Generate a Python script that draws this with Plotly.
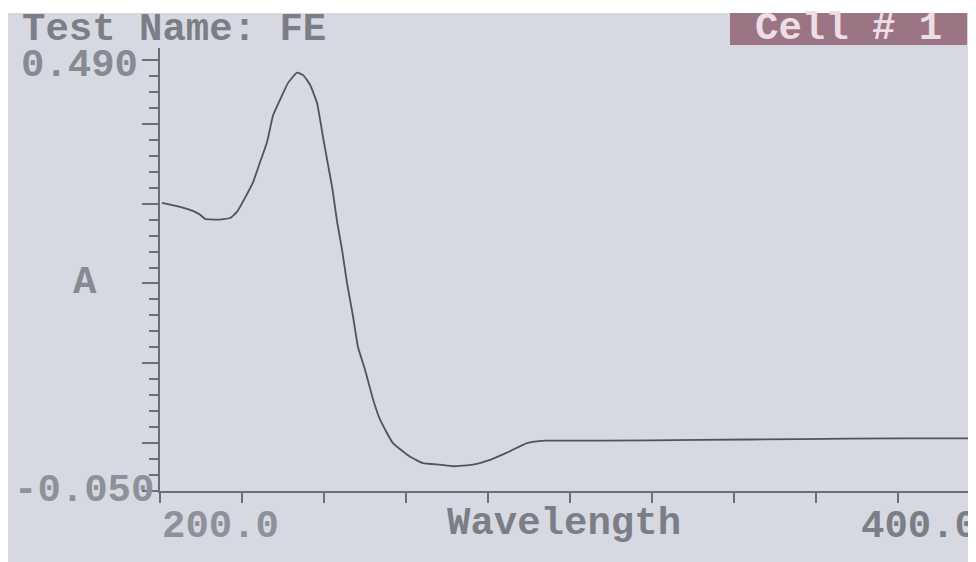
import plotly.graph_objects as go

# Data (wavelength in nm, absorbance A)
wavelength = [200.5, 204.9, 208.0, 209.8, 211.0, 213.9, 217.1, 218.8, 220.7, 222.7,
              224.4, 226.1, 227.6, 229.8, 231.2, 233.4, 234.9, 236.6, 238.3, 239.8,
              241.0, 242.0, 243.2, 244.4, 245.6, 247.1, 248.3, 250.0, 252.0, 253.7,
              256.8, 261.0, 264.1, 268.3, 271.5, 276.3, 280.5, 284.6, 289.5, 293.9,
              307.3, 331.7, 356.1, 380.5, 399.0]
absorbance = [0.311, 0.306, 0.301, 0.296, 0.291, 0.290, 0.292, 0.300, 0.317, 0.337,
              0.362, 0.387, 0.421, 0.446, 0.461, 0.474, 0.471, 0.459, 0.436, 0.392,
              0.358, 0.330, 0.287, 0.252, 0.211, 0.168, 0.130, 0.102, 0.064, 0.039,
              0.010, -0.007, -0.015, -0.017, -0.019, -0.017, -0.011, -0.002, 0.010, 0.013,
              0.013, 0.014, 0.015, 0.016, 0.016]

y_major_ticks = [-0.05, 0.01, 0.11, 0.21, 0.31, 0.41, 0.49]
y_tick_text = ["", "", "", "", "", "", ""]
x_min, x_max = 200.0, 400.0
x_view_max = 399.0
y_min, y_max = -0.050, 0.490

TXT = "#7b7e86"
FONT = dict(family="Liberation Mono", size=39, color=TXT, weight="bold")
AXC = "#6c6f77"

fig = go.Figure()
fig.add_trace(go.Scatter(x=wavelength, y=absorbance, mode="lines", line_shape="spline",
                         line=dict(color="#50535b", width=1.8, smoothing=0.4),
                         hoverinfo="skip"))

# page body has an 8px margin, so the figure is offset by 8px
fig.update_layout(
    width=968, height=554,
    margin=dict(l=152, r=0, t=40, b=71),
    paper_bgcolor="#d6d9e2", plot_bgcolor="rgba(0,0,0,0)",
    showlegend=False,
    xaxis=dict(range=[x_min, x_view_max], showgrid=False, zeroline=False,
               showline=True, linecolor=AXC, linewidth=2,
               ticks="outside", tick0=200, dtick=20, ticklen=10, tickwidth=2,
               tickcolor=AXC, showticklabels=False),
    yaxis=dict(range=[y_min, 0.505], showgrid=False, zeroline=False,
               showline=True, linecolor=AXC, linewidth=2,
               ticks="outside", tickmode="array", tickvals=y_major_ticks,
               ticktext=y_tick_text, ticklen=16, tickwidth=2, tickcolor=AXC,
               minor=dict(ticks="outside", tick0=-0.05, dtick=0.02, ticklen=9,
                          tickwidth=2, tickcolor=AXC)),
)

def px_x(px):
    return (px - 160) / 816.0

def px_y(py):
    return (491 - py) / 443.0

shapes = [
    dict(type="rect", xref="paper", yref="paper", x0=px_x(-10), x1=px_x(990),
         y0=px_y(13), y1=px_y(-5), fillcolor="white", line=dict(width=0), layer="below"),
    dict(type="rect", xref="paper", yref="paper", x0=px_x(730), x1=px_x(967),
         y0=px_y(45), y1=px_y(13), fillcolor="#9c7584", line=dict(width=0), layer="below"),
]
fig.update_layout(shapes=shapes)

def A(**kw):
    d = dict(showarrow=False, font=FONT)
    d.update(kw)
    return d

x400_paper = (x_max - x_min) / (x_view_max - x_min)

ann = [
    A(text="Test Name: FE", xref="paper", yref="paper", x=px_x(20), y=px_y(30),
      xanchor="left", yanchor="middle"),
    A(text="Cell # 1", xref="paper", yref="paper", x=px_x(848), y=px_y(29),
      xanchor="center", yanchor="middle",
      font=dict(family="Liberation Mono", size=39, color="#eddde4", weight="bold")),
    A(text="%.3f" % y_max, xref="paper", yref="paper", x=px_x(140), y=px_y(66),
      xanchor="right", yanchor="middle", font=dict(FONT, color="#878a92")),
    A(text="%.3f" % y_min, xref="paper", yref="y", x=px_x(156), y=y_min,
      xanchor="right", yanchor="middle", font=dict(FONT, color="#8e9199")),
    A(text="A", xref="paper", yref="y", x=px_x(85), y=0.21,
      xanchor="center", yanchor="middle", font=dict(FONT, color="#878a92")),
    A(text="%.1f" % x_min, xref="paper", yref="paper", x=0, y=px_y(527),
      xanchor="left", yanchor="middle", font=dict(FONT, color="#8e9199")),
    A(text="%.1f" % x_max, xref="paper", yref="paper", x=x400_paper, y=px_y(527),
      xanchor="right", yanchor="middle"),
    A(text="Wavelength", xref="paper", yref="paper", x=px_x(445), y=px_y(524),
      xanchor="left", yanchor="middle"),
]
fig.update_layout(annotations=ann)

fig.write_html("out.html")
